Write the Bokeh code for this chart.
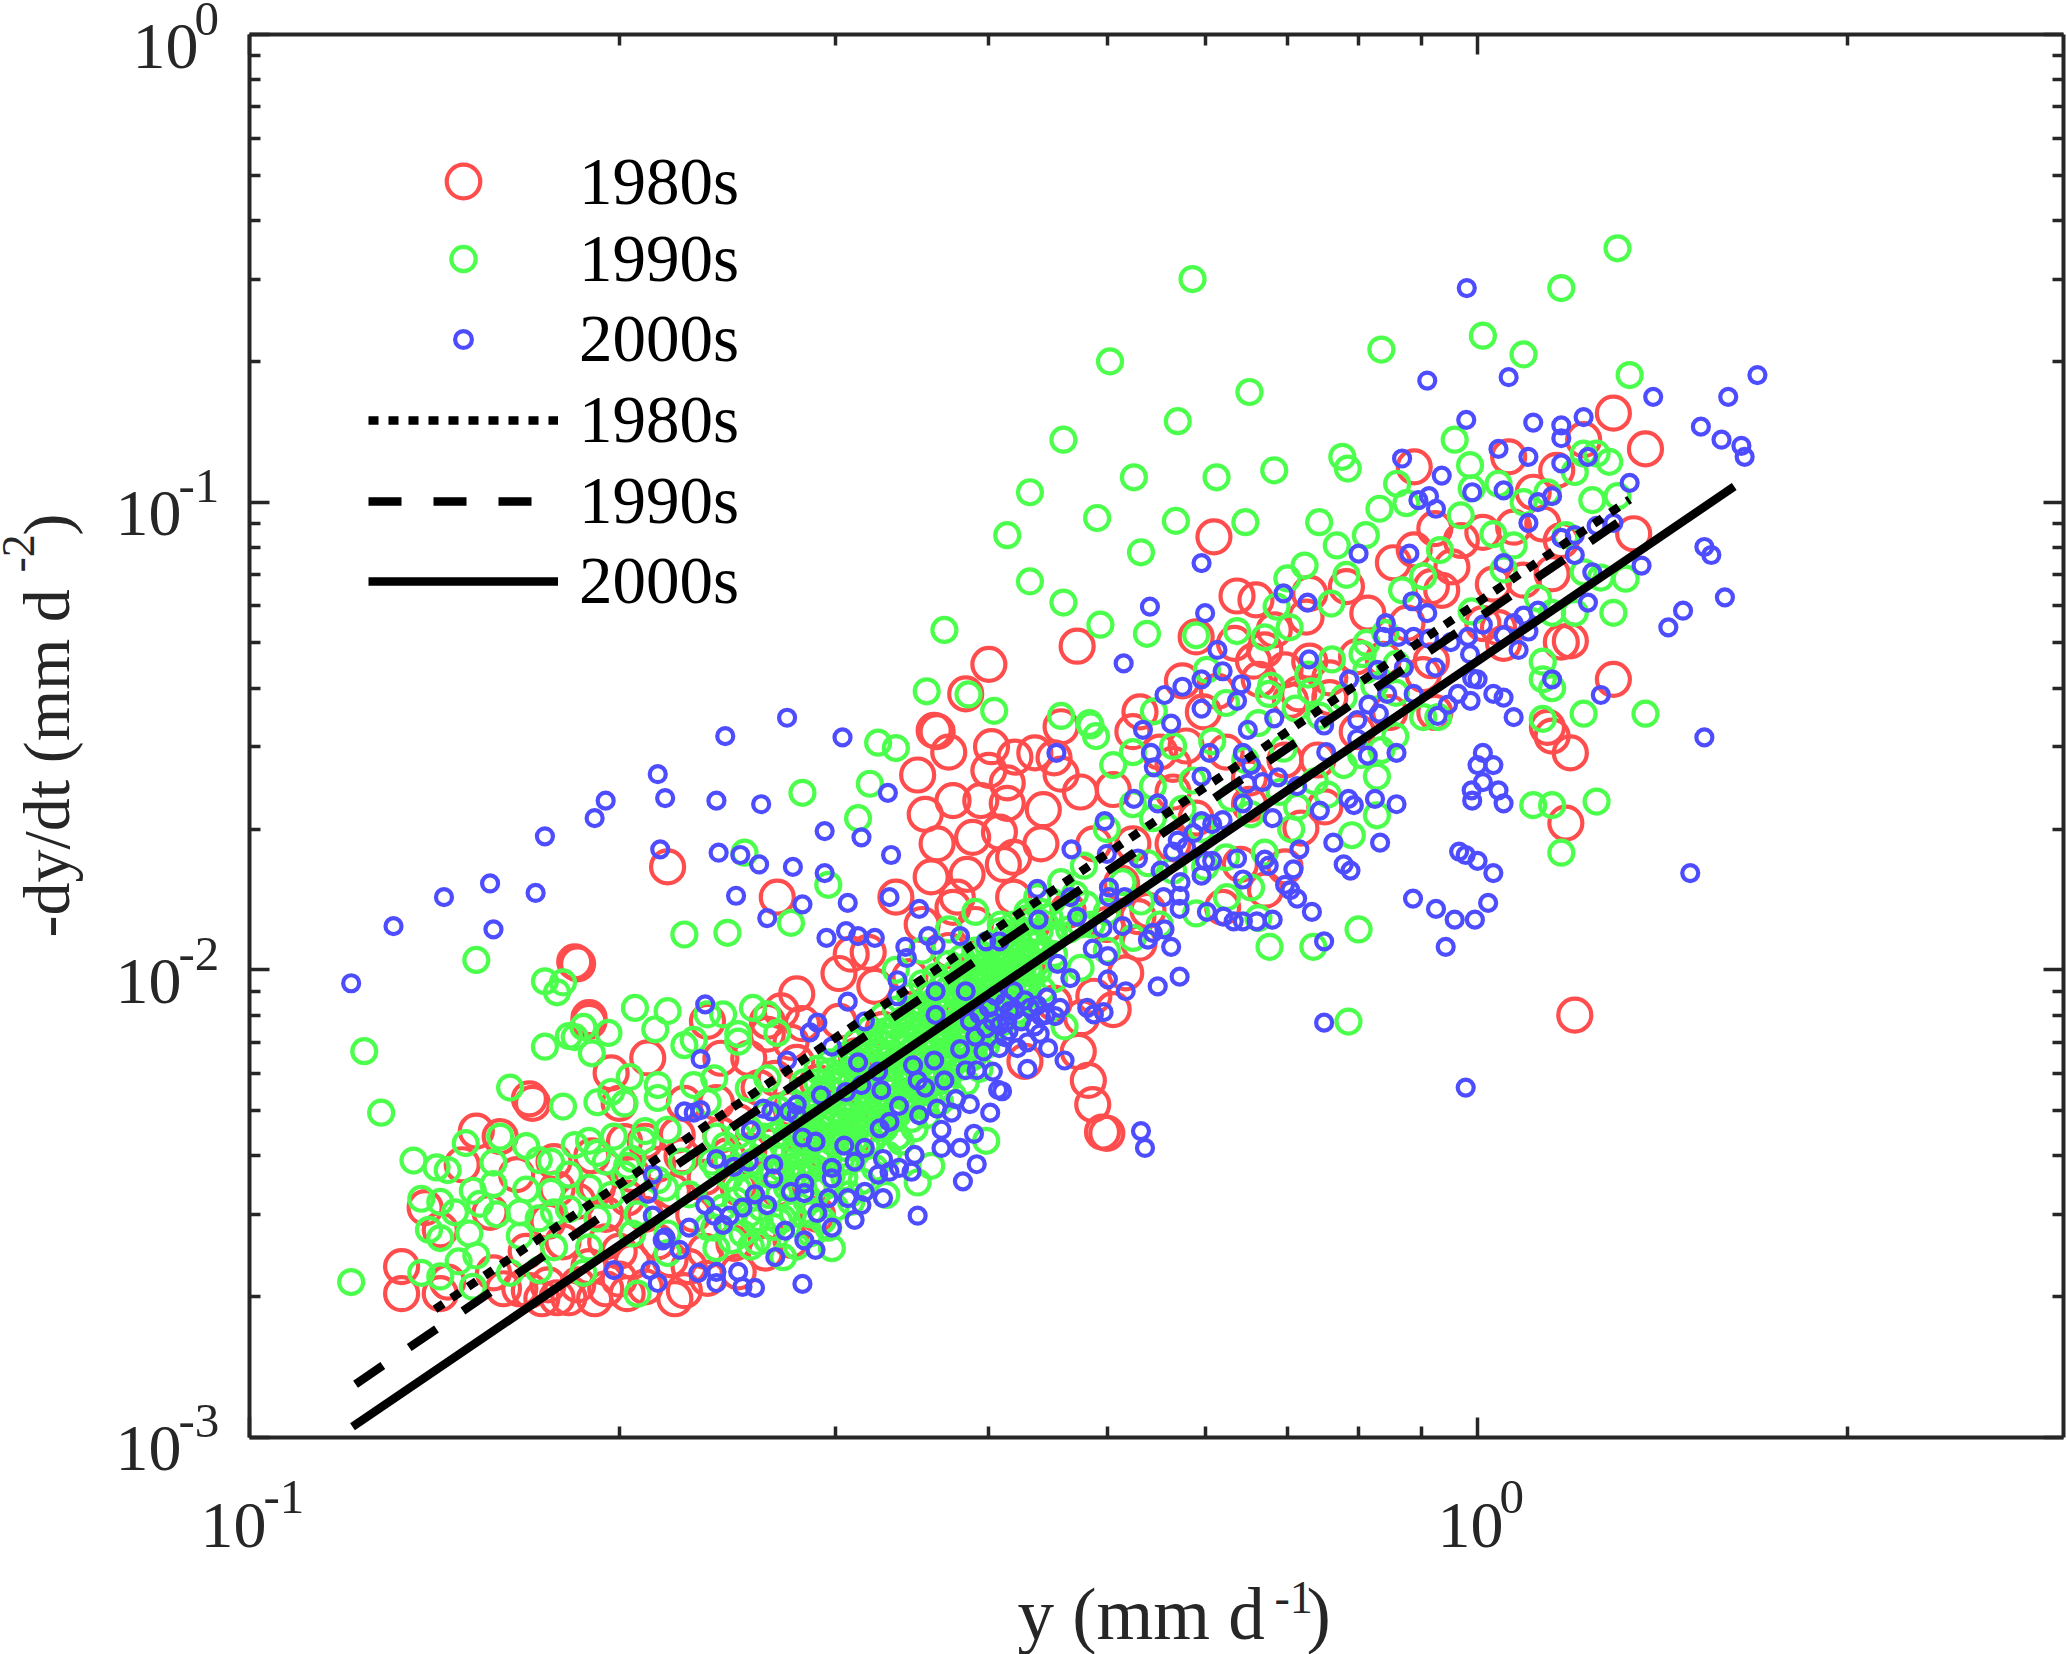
import math
from bokeh.plotting import figure
from bokeh.models import Range1d, FixedTicker, Label, Legend, LegendItem, LogAxis
from bokeh.embed import file_html
from bokeh.resources import INLINE

FONT = "Liberation Serif"
AXC = "#262626"
RED, GREEN, BLUE = "#FF4D4D", "#4DFF4D", "#4D4DFF"

x_major = [0.1, 1]
x_minor = [0.2, 0.3, 0.4, 0.5, 0.6, 0.7, 0.8, 0.9, 2]
y_major = [0.001, 0.01, 0.1, 1]
y_minor = [m * d for d in (0.001, 0.01, 0.1) for m in (2, 3, 4, 5, 6, 7, 8, 9)]

red_low = [(.133,.00232),(.133,.00203),(.143,.00203),(.153,.00452),(.160,.00440),(.149,.00383),(.139,.00310),(.143,.00278),
(.170,.00518),(.169,.00530),(.197,.00602),(.211,.00648),(.236,.00776),(.189,.00776),(.189,.00790),(.161,.00208),(.169,.00206),
(.178,.00199),(.182,.00199),(.195,.00208),(.203,.00203),(.226,.00206),(.236,.00219),(.248,.00260),(.165,.00365),(.177,.00389),
(.157,.00303),(.180,.00262),(.195,.00262),(.205,.00238),(.215,.00262),(.202,.00429),(.215,.00384),(.221,.00336),(.203,.00325),
(.192,.00342),(.223,.00443),(.242,.00443),(.242,.00647),(.255,.00647),(.268,.00586),(.279,.00634),(.282,.00767),(.264,.00776),
(.302,.00776),(.184,.0104),(.185,.0103),(.219,.0166),(.269,.0143),(.166,.00208),(.173,.00198),(.175,.00212),(.185,.00212),
(.191,.00198),(.189,.00232),(.200,.00218),(.210,.00210),(.222,.00198),(.228,.00232),(.250,.00226),(.263,.00248),(.276,.00264),
(.290,.00300),(.269,.00340),(.290,.00416),(.312,.00443),(.200,.00518),(.226,.00518),(.250,.00473),(.276,.00505),(.290,.00575),
(.312,.00655),(.328,.00746),(.250,.00342),(.230,.00300),(.205,.00365),(.145,.00215),(.158,.00225),(.168,.00250),(.175,.00290),
(.185,.00320),(.195,.00300),(.210,.00300),(.220,.00240),(.235,.00250),(.190,.00400),(.210,.00430),(.225,.00400),(.235,.00360),
(.245,.00400),(.200,.00250),(.178,.00340),(.240,.00520),(.260,.00560),(.255,.00410),(.265,.00420),(.280,.00390),(.300,.00460),
(.320,.00530),(.340,.00620),(.360,.00720),(.380,.00800)]
red_mid = [(.361,.0325),(.371,.0292),(.350,.0261),(.402,.0300),(.420,.0285),(.400,.0267),(.355,.0215),(.374,.0230),(.394,.0230),
(.414,.0227),(.363,.0186),(.388,.0192),(.408,.0197),(.359,.0158),(.384,.0160),(.377,.0143),(.374,.0136),(.411,.0168),(.309,.0108),
(.319,.0109),(.302,.00982),(.323,.00922),(.279,.00888),(.271,.00817),(.264,.00729),(.400,.0450),(.383,.0389),(.363,.0323),(.472,.0492),
(.458,.0331),(.436,.0291),(.414,.0251),(.443,.0220),(.458,.0262),(.565,.0275),(.505,.0243),(.513,.0153),(.529,.0130),(.517,.00985),
(.505,.00822),(.476,.00790),(.428,.00637),(.473,.00669),(.482,.00580),(.486,.00515),(.495,.00450),(.499,.00447),(.620,.0136),(.672,.0148),
(.718,.0201),(.641,.0168),(.697,.0166),(.751,.0223),(.452,.0284),(.475,.0240),(.441,.0186),(.487,.0186),(.524,.0186),(.419,.0174),
(.434,.0125),(.464,.0134),(.499,.0125),(.530,.0114),(.487,.00878),(.452,.00849),(.539,.0134),(.419,.0143),(.390,.0125),(.353,.0125),
(.336,.0143),(.371,.0110),(.345,.00967),(.399,.00967),(.430,.0103),(.276,.00700)]
red_band = [(.610,.0843),(.637,.0630),(.660,.0618),(.730,.0638),(.782,.0660),(.854,.0742),(.888,.0791),(.888,.119),(.923,.0878),(.970,.0828),
(1.01,.0862),(1.06,.125),(1.16,.117),(1.11,.105),(1.07,.0884),(1.13,.0898),(1.22,.136),(1.29,.155),(1.37,.130),(1.34,.0856),(1.17,.0828),
(.953,.0727),(.917,.0660),(1.03,.0668),(1.09,.0681),(1.15,.0703),(1.19,.0505),(1.17,.0502),(1.29,.0418),(.590,.0515),(.634,.0499),
(.657,.0457),(.697,.0438),(.730,.0457),(.575,.0415),(.614,.0394),(.664,.0418),(.715,.0389),(.531,.0356),(.598,.0356),(.814,.0579),
(.876,.0551),(.935,.0648),(1.04,.0539),(1.05,.0499),(1.14,.0330),(.725,.0568),(.683,.0533),(.671,.0483),(.797,.0467),(.758,.0421),
(.704,.0377),(.758,.0382),(.917,.0458),(1.01,.0550),(1.15,.0316),(1.19,.0291),(1.18,.0206),(1.20,.00800),(.551,.0292),(.524,.0323),
(.579,.0301),(.624,.0292),(.652,.0257),(.697,.0281),(.741,.0281),(.798,.0323),(.848,.0355),(.923,.0355),(.903,.0428),(.838,.0461),
(.565,.0186),(.590,.0211),(.652,.0226),(.565,.0240)]

green_outer = [(.586,.300),(1.30,.349),(1.17,.287),(.502,.200),(1.01,.227),(1.09,.207),(.835,.212),(1.33,.187),(.652,.172),(.570,.149),
(.460,.136),(.525,.113),(.613,.113),(.683,.117),(.776,.125),(.784,.118),(.432,.105),(.490,.0925),(.568,.0912),(.647,.0906),(.414,.085),
(.532,.0781),(.432,.0677),(.460,.0610),(.493,.0547),(.538,.0523),(.590,.0519),(.368,.0533),(.404,.0358),(.356,.0394),(.385,.0388),
(.458,.0349),(.484,.0333),(.489,.0316),(.325,.0306),(.336,.0298),(.282,.0239),(.320,.0250),(.313,.0211),(.253,.0178),(.296,.0152),
(.226,.0119),(.245,.0120),(.276,.0126),(.153,.0105),(.124,.0067),(.128,.00495),(.174,.00945),(.178,.00895),(.180,.0094),(.174,.00685),
(.184,.00718),(.187,.00755),(.163,.00560),(.180,.00510),(.121,.00215),(1.37,.0353),(1.29,.0580),(1.25,.0229),(1.11,.0225),(1.17,.0178),
(1.15,.0225),(.800,.0122),(.677,.0112),(.735,.0112),(.785,.00775),(1.13,.0344),(1.22,.0353),(.828,.0259),(.828,.0214),(.790,.0194),
(.663,.0129),(.461,.00757)]
green_band = [(.743,.0906),(.768,.0808),(.811,.085),(.832,.0968),(.860,.1095),(.875,.0995),(.958,.136),(.986,.120),(.989,.107),(1.04,.1095),
(.969,.0937),(1.09,.1000),(1.14,.105),(1.20,.116),(1.22,.127),(1.25,.127),(1.28,.122),(1.24,.101),(1.30,.103),(1.03,.0854),(.932,.0790),
(1.07,.0808),(1.05,.0718),(1.18,.085),(1.22,.0708),(1.26,.0690),(1.32,.0686),(1.20,.0580),(1.15,.0580),(1.13,.0456),(1.13,.0418),(1.15,.0400),
(.723,.0732),(.700,.0687),(.782,.0699),(.903,.0694),(.868,.0648),(.760,.0607),(.686,.0598),(.637,.0530),(.671,.0514),(.703,.0540),(.812,.0500),
(1.12,.0623),(.989,.0584),(.483,.0337),(.545,.0357),(.602,.0438),(.676,.0389),(.732,.0394),(.812,.0438),(.858,.0391),(.903,.0347),(.929,.0347),
(.505,.0274),(.524,.0292),(.544,.0247),(.565,.0301),(.586,.0254),(.608,.0308),(.624,.0372),(.647,.0281),(.663,.0337),(.679,.0405),(.695,.0297),
(.711,.0362),(.728,.0428),(.744,.0349),(.761,.0461),(.778,.0382),(.806,.0473),(.824,.0405),(.841,.0525),(.859,.0451),(.544,.0211),(.575,.0221),
(.596,.0200),(.630,.0233),(.654,.0215),(.690,.0240),(.713,.0223),(.737,.0253),(.755,.0237),(.778,.0274),(.804,.0288),(.835,.0295),(.857,.0316),
(.524,.0226),(.499,.0200),(.478,.0167),(.458,.0154),(.438,.0143),(.514,.0154),(.539,.0169),(.565,.0163),(.600,.0166),(.624,.0174),(.671,.0178),
(.705,.0200),(.654,.0150),(.625,.0143),(.590,.0132),(.551,.0125),(.524,.0117),(.499,.0110),(.475,.0101),(.452,.00954),(.430,.00880),(.423,.0110),
(.399,.0103),(.380,.00967),(.409,.0125),(.430,.0133),(.390,.0133),(.371,.0122),(.353,.0110),(.336,.0100),(.475,.0125),(.452,.0119),(.499,.0133),(.532,.0140)]
green_core = [(.238,.00389),(.240,.00331),(.236,.00282),(.244,.00421),(.246,.00360),(.243,.00310),(.247,.00264),(.250,.00443),(.251,.00377),(.249,.00321),(.252,.00273),
(.255,.00458),(.257,.00389),(.254,.00342),(.258,.00291),(.256,.00256),(.263,.00489),(.262,.00416),(.265,.00365),(.261,.00310),(.264,.00264),
(.269,.00505),(.268,.00443),(.271,.00377),(.270,.00331),(.267,.00282),(.276,.00522),(.275,.00458),(.278,.00402),(.274,.00342),(.277,.00300),(.279,.00256),
(.283,.00575),(.282,.00489),(.285,.00429),(.281,.00365),(.284,.00321),(.286,.00273),(.290,.00614),(.289,.00522),(.292,.00458),(.291,.00389),(.288,.00342),(.293,.00291),
(.297,.00634),(.296,.00557),(.299,.00473),(.295,.00416),(.298,.00365),(.300,.00310),(.305,.00655),(.304,.00575),(.307,.00505),(.303,.00443),(.306,.00389),(.308,.00331),
(.312,.00700),(.311,.00614),(.314,.00539),(.310,.00473),(.313,.00416),(.315,.00353),(.320,.00746),(.319,.00655),(.322,.00575),(.318,.00505),(.321,.00429),(.323,.00377),
(.328,.00796),(.327,.00700),(.330,.00594),(.326,.00522),(.329,.00458),(.331,.00402),(.336,.00822),(.335,.00722),(.338,.00634),(.334,.00557),(.337,.00489),(.339,.00429),
(.345,.00878),(.344,.00771),(.347,.00677),(.343,.00594),(.346,.00522),(.348,.00458),(.353,.00936),(.352,.00822),(.355,.00722),(.351,.00634),(.354,.00557),(.356,.00489),
(.362,.00967),(.361,.00849),(.364,.00746),(.360,.00677),(.363,.00594),(.365,.00522),(.371,.0103),(.370,.00907),(.373,.00796),(.369,.00700),(.372,.00614),(.374,.00539),
(.380,.0106),(.379,.00936),(.382,.00849),(.378,.00746),(.381,.00655),(.383,.00575),(.390,.0110),(.389,.00998),(.392,.00878),(.388,.00796),(.391,.00700),(.393,.00614),
(.399,.0113),(.398,.0103),(.401,.00907),(.397,.00822),(.400,.00722),(.409,.0121),(.408,.0106),(.411,.00967),(.407,.00849),(.410,.00771),
(.419,.0125),(.418,.0113),(.421,.00998),(.417,.00907),(.420,.00796),(.430,.0129),(.429,.0117),(.432,.0106),(.428,.00936),(.431,.00849),
(.441,.0133),(.440,.0121),(.443,.0110),(.439,.00998),(.442,.00907)]
green_core_extra = [(.262,.00440),(.267,.00370),(.272,.00420),(.276,.00480),(.280,.00380),(.284,.00500),(.287,.00440),(.290,.00400),(.293,.00550),(.296,.00480),
(.300,.00440),(.300,.00590),(.303,.00390),(.306,.00520),(.309,.00450),(.312,.00640),(.315,.00580),(.316,.00490),(.318,.00420),(.320,.00690),(.323,.00610),(.325,.00530),
(.327,.00470),(.330,.00740),(.332,.00660),(.333,.00570),(.335,.00500),(.337,.00440),(.340,.00780),(.341,.00690),(.342,.00610),(.344,.00540),(.346,.00480),(.349,.00830),
(.350,.00740),(.352,.00650),(.354,.00590),(.355,.00520),(.358,.00880),(.359,.00790),(.360,.00710),(.361,.00620),(.362,.00550),(.366,.00920),(.367,.00820),(.368,.00740),
(.369,.00660),(.370,.00580),(.375,.00980),(.376,.00880),(.377,.00780),(.378,.00700),(.379,.00620),(.384,.01020),(.385,.00920),(.386,.00830),(.387,.00740),(.388,.00650),
(.394,.0108),(.395,.00960),(.396,.00870),(.397,.00780),(.398,.00690),(.403,.0113),(.404,.0100),(.405,.00910),(.406,.00810),(.413,.0118),(.414,.0104),(.415,.00950),
(.416,.00860),(.424,.0122),(.425,.0110),(.426,.00980),(.427,.00890),(.435,.0127),(.436,.0115),(.437,.0103),(.448,.0130),(.450,.0118),(.452,.0108),(.462,.0133),(.465,.0122),
(.450,.0140),(.470,.0145),(.480,.0138),(.485,.0125),(.240,.00440),(.245,.00390),(.250,.00340),(.255,.00300),(.260,.00380),(.265,.00330),(.270,.00290),(.275,.00380),
(.285,.00320),(.295,.00350),(.305,.00360)]
green_core_solid = [(.276,.00522),(.277,.00479),(.275,.00437),(.278,.00410),(.276,.00375),(.277,.00344),(.283,.00553),(.284,.00502),(.282,.00467),(.283,.00426),(.285,.00389),(.282,.00360),
(.290,.00575),(.289,.00528),(.291,.00486),(.290,.00449),(.292,.00408),(.289,.00377),(.297,.00606),(.298,.00553),(.296,.00512),(.297,.00467),(.299,.00426),(.296,.00394),
(.305,.00630),(.304,.00582),(.306,.00532),(.305,.00489),(.303,.00449),(.306,.00416),(.312,.00663),(.313,.00606),(.311,.00560),(.312,.00512),(.314,.00473),(.311,.00432),
(.320,.00695),(.319,.00638),(.321,.00582),(.320,.00539),(.322,.00492),(.319,.00455),(.328,.00722),(.327,.00663),(.329,.00614),(.328,.00560),(.326,.00518),(.329,.00473),
(.336,.00757),(.337,.00700),(.335,.00638),(.336,.00590),(.338,.00539),(.335,.00499),(.345,.00796),(.344,.00725),(.346,.00673),(.345,.00614),(.343,.00567),(.346,.00518),
(.353,.00826),(.354,.00766),(.352,.00700),(.353,.00647),(.355,.00590),(.352,.00546),(.362,.00866),(.361,.00796),(.363,.00735),(.362,.00673),(.360,.00622),(.363,.00575),
(.371,.00907),(.372,.00838),(.370,.00766),(.371,.00708),(.373,.00647),(.370,.00598),(.380,.00948),(.379,.00873),(.381,.00808),(.380,.00735),(.378,.00680),(.381,.00622),
(.390,.00992),(.389,.00907),(.391,.00838),(.390,.00776),(.392,.00708),(.389,.00655),(.399,.0103),(.400,.00954),(.398,.00873),(.399,.00808),(.401,.00746),
(.409,.0107),(.408,.00992),(.410,.00922),(.409,.00838),(.411,.00776),(.419,.0112),(.420,.0104),(.418,.00954),(.419,.00884),(.421,.00816),
(.430,.0117),(.429,.0107),(.431,.0100),(.430,.00922),(.432,.00849)]
green_low = [(.182,.00722),(.196,.00733),(.190,.00663),(.192,.00521),(.197,.00548),(.202,.00518),(.204,.00590),(.215,.00567),(.215,.00532),(.214,.00746),
(.219,.00816),(.206,.00829),(.243,.00803),(.236,.00803),(.250,.00729),(.250,.00702),(.230,.00708),(.226,.00690),(.269,.00733),(.257,.00829),(.264,.00803),
(.230,.00567),(.239,.00586),(.255,.00558),(.264,.00586),(.236,.00521),(.136,.00391),(.142,.00378),(.145,.00373),(.150,.00426),(.160,.00440),(.168,.00420),
(.158,.00387),(.172,.00392),(.176,.00389),(.184,.00422),(.189,.00431),(.192,.00406),(.198,.00440),(.203,.00381),(.210,.00452),(.209,.00431),(.219,.00455),
(.138,.00324),(.143,.00319),(.147,.00303),(.152,.00337),(.158,.00348),(.154,.00316),(.159,.00300),(.140,.00278),(.143,.00267),(.151,.00273),(.166,.00303),
(.168,.00339),(.176,.00335),(.172,.00294),(.166,.00270),(.177,.00303),(.189,.00342),(.182,.00308),(.192,.00294),(.197,.00330),(.202,.00365),(.205,.00394),
(.215,.00355),(.138,.00225),(.143,.00221),(.148,.00238),(.153,.00245),(.152,.00210),(.163,.00225),(.172,.00228),(.177,.00255),(.187,.00225),(.189,.00255),
(.207,.00203),(.219,.00248),(.240,.00254),(.259,.00262),(.272,.00294),(.298,.00254),(.272,.00243),(.296,.00281),(.350,.00351),(.359,.00381),(.398,.00431),
(.330,.00330),(.309,.00319),(.286,.00300),(.259,.00290),(.239,.00281),(.219,.00273),(.205,.00273),(.182,.00365),(.195,.00389),(.207,.00300),(.218,.00342),
(.225,.00389),(.228,.00331),(.240,.00377)]

blue_outer = [(.980,.287),(.910,.182),(1.06,.185),(1.39,.168),(1.60,.168),(1.69,.187),(1.52,.145),(1.58,.136),(1.64,.132),(1.65,.125),(.979,.150),(1.11,.148),
(1.17,.146),(1.17,.137),(1.22,.152),(1.23,.125),(1.04,.130),(1.10,.125),(1.17,.121),(.868,.124),(.935,.114),(.913,.103),(.895,.101),(.925,.0968),(.990,.105),
(1.05,.106),(1.15,.103),(1.12,.1000),(1.33,.110),(1.10,.0903),(1.29,.0903),(1.25,.0890),(1.17,.0839),(1.20,.0850),(1.20,.0771),(1.05,.0741),(1.24,.0708),
(1.36,.0732),(1.53,.0802),(1.55,.0771),(1.59,.0626),(1.47,.0586),(1.43,.0540),(.596,.0741),(.800,.0776),(.880,.0776),(.541,.0598),(.600,.0579),(.695,.0638),
(.727,.0610),(.885,.0614),(.910,.0579),(.515,.0452),(.614,.0483),(.729,.0461),(.842,.0551),(.838,.0515),(.862,.0515),(.887,.0515),(.913,.0511),(.951,.0502),
(.982,.0515),(1.01,.0547),(1.05,.0519),(1.07,.0551),(1.09,.0572),(1.12,.0586),(1.10,.0529),(1.23,.0610),(1.08,.0483),(.986,.0473),(.924,.0443),(.990,.0420),
(1.00,.0418),(.871,.0443),(.829,.0438),(.786,.0418),(1.15,.0418),(1.26,.0387),(1.07,.0347),(.928,.0349),(.964,.0389),(1.03,.0389),(1.05,.0382),(.887,.0389),
(.946,.0369),(.987,.0376),(.844,.0389),(.815,.0369),(.831,.0353),(.798,.0342),(.683,.0345),(.637,.0376),(.642,.0408),(.596,.0418),(.575,.0403),(.556,.0387),
(.620,.0435),(.596,.0362),(.534,.0326),(.563,.0336),(.650,.0326),(1.53,.0314),(1.01,.0291),(1.00,.0274),(1.03,.0274),(1.01,.0252),(.989,.0242),(.990,.0230),
(1.04,.0242),(1.05,.0227),(.825,.0232),(.785,.0232),(.793,.0225),(.859,.0226),(.763,.0187),(.833,.0187),(.966,.0179),(.978,.0176),(1.00,.0171),(1.03,.0161),
(.778,.0168),(.788,.0163),(1.49,.0161),(.886,.0142),(.925,.0135),(.958,.0128),(.995,.0128),(1.02,.0139),(.942,.0112),(.750,.0115),(.750,.00771),(.978,.00560),
(.532,.00452),(.536,.00416)]
blue_mid = [(.716,.0181),(.708,.0164),(.713,.0142),(.733,.0133),(.681,.0128),(.661,.0127),(.644,.0127),(.633,.0127),(.621,.0130),(.602,.0133),(.572,.0135),(.563,.0112),
(.556,.0122),(.544,.0120),(.539,.0116),(.572,.00967),(.549,.00922),(.517,.00900),(.500,.00954),(.466,.00960),(.455,.0103),(.500,.0107),(.486,.0111),(.514,.0124),
(.495,.0123),(.644,.0156),(.671,.0172),(.676,.0167),(.637,.0173),(.608,.0171),(.596,.0159),(.697,.0152),(.704,.0148),(.573,.0154),(.572,.0144),(.555,.0143),(.552,.0163),
(.529,.0173),(.499,.0177),(.467,.0181),(.497,.0208),(.525,.0232),(.549,.0227),(.596,.0259),(.545,.0271),(.542,.0291),(.605,.0291),(.644,.0291),(.654,.0274),(.688,.0258),
(.668,.0252),(.649,.0250),(.713,.0247),(.644,.0227),(.681,.0211),(.744,.0219),(.753,.0292),(.814,.0287),(.859,.0291),(.798,.0312),(.454,.0291),(.750,.0333),(.608,.0205),
(.587,.0196),(.570,.0189),(.620,.0209),(.596,.0208),(.579,.0183),(.600,.0171),(.565,.0179),(.516,.0143),(.501,.0150),(.501,.0143),(.472,.0130),(.439,.0128),(.438,.0149),
(.466,.0143),(.419,.00900),(.446,.00873),(.432,.00829),(.457,.00829),(.416,.00816),(.425,.00776),(.441,.00796),(.453,.00796),(.436,.00757),(.412,.00718),(.422,.00680),
(.447,.00680),(.461,.00640),(.430,.00614),(.410,.00550),(.481,.00829),(.496,.00812),(.487,.00803),(.400,.00830),(.405,.00880),(.412,.00850),(.420,.00820),(.428,.00860),
(.438,.00840),(.445,.00800),(.415,.00740),(.408,.00760),(.430,.00700),(.440,.00730),(.390,.00720),(.398,.00750)]
blue_left = [(.274,.0346),(.244,.0316),(.304,.0314),(.215,.0262),(.218,.0233),(.240,.0230),(.261,.0226),(.195,.0230),(.191,.0211),(.174,.0193),(.331,.0239),(.294,.0198),
(.315,.0192),(.216,.0181),(.241,.0178),(.251,.0176),(.260,.0168),(.277,.0166),(.294,.0161),(.333,.0176),(.157,.0153),(.144,.0143),(.171,.0146),(.158,.0122),(.131,.0124),
(.121,.00936),(.249,.0144),(.282,.0138),(.264,.0129),(.307,.0139),(.332,.0143),(.351,.0135),(.295,.0117),(.306,.0121),(.313,.0118),(.323,.0117),(.342,.0112),(.343,.0106),
(.357,.0118),(.362,.0113),(.379,.0118),(.398,.0115),(.408,.0115),(.337,.00950),(.362,.00900),(.383,.00900),(.337,.00878),(.307,.00855),(.317,.00776),(.362,.00801),
(.290,.00771),(.286,.00735),(.235,.00844),(.233,.00644),(.274,.00640),(.298,.00685),(.313,.00634),(.226,.00498),(.230,.00495),(.233,.00501)]
blue_low = [(.198,.00228),(.212,.00228),(.215,.00214),(.232,.00225),(.240,.00226),(.240,.00214),(.250,.00226),(.252,.00210),(.258,.00209),(.282,.00213),(.268,.00243),
(.289,.00252),(.283,.00264),(.273,.00277),(.298,.00281),(.290,.00302),(.311,.00292),(.350,.00298),(.381,.00353),(.391,.00384),(.218,.00268),(.224,.00252),(.217,.00264),
(.228,.00281),(.213,.00298),(.211,.00332),(.213,.00365),(.240,.00394),(.256,.00454),(.248,.00379),(.255,.00389),(.235,.00314),(.239,.00298),(.243,.00285),(.246,.00298),
(.252,.00310),(.258,.00331),(.264,.00314),(.267,.00384),(.267,.00358),(.276,.00335),(.283,.00349),(.283,.00333),(.296,.00325),(.298,.00377),(.298,.00358),(.307,.00325),
(.315,.00314),(.317,.00335),(.328,.00325),(.311,.00389),(.305,.00421),(.317,.00416),(.328,.00394),(.332,.00370),(.325,.00365),(.338,.00377),(.346,.00370),(.348,.00402),
(.282,.00438),(.289,.00429),(.326,.00458),(.332,.00473),(.338,.00512),(.351,.00489),(.363,.00505),(.373,.00495),(.366,.00455),(.366,.00416),(.379,.00416),(.389,.00446),
(.401,.00495),(.386,.00516),(.376,.00529),(.407,.00554),(.403,.00606),(.391,.00610),(.383,.00610),(.361,.00640),(.347,.00625),(.350,.00580),(.355,.00560),(.368,.00580),
(.379,.00677),(.396,.00669),(.408,.00680),(.266,.00498),(.279,.00515),(.292,.00539),(.315,.00567),(.327,.00553),(.306,.00548),(.325,.00606),(.275,.00498),(.262,.00505),
(.279,.00489),(.386,.00776),(.403,.00776),(.414,.00776),(.393,.00803)]

fit_1980s_x, fit_1980s_y = [0.1416, 1.33], [0.00188, 0.1013]
fit_1990s_x, fit_1990s_y = [0.1220, 1.312], [0.0013, 0.0918]
fit_2000s_x, fit_2000s_y = [0.1213, 1.618], [0.001054, 0.108]

XLIM = (0.1, 3.0)
YLIM = (0.001, 1.0)

# The plot box lies at pixels 249..2063 x 34..1437 of a 2067x1654 canvas. The frame fills the canvas,
# so that texts beside the box stay visible; the axes are pinned to the box with fixed_location.
W, H = 2067, 1654
L, R, T, B = 249, 2063, 34, 1437
xdec = (R - L) / math.log10(XLIM[1] / XLIM[0])
ydec = (B - T) / math.log10(YLIM[1] / YLIM[0])
x_range = Range1d(XLIM[0] * 10 ** (-L / xdec), XLIM[1] * 10 ** ((W - R) / xdec))
y_range = Range1d(YLIM[0] * 10 ** (-(H - B) / ydec), YLIM[1] * 10 ** (T / ydec))

p = figure(width=W, height=H, output_backend="svg", toolbar_location=None,
           x_axis_type="log", y_axis_type="log", x_axis_location=None, y_axis_location=None,
           x_range=x_range, y_range=y_range,
           min_border=0, background_fill_color="white", border_fill_color="white",
           outline_line_color=None)
p.grid.visible = False


def add_axis(side, major, minor, where, bounds):
    ax = LogAxis(fixed_location=where, bounds=bounds)
    ax.ticker = FixedTicker(ticks=major, minor_ticks=minor)
    ax.axis_line_color = AXC
    ax.axis_line_width = 4
    ax.major_tick_line_color = AXC
    ax.minor_tick_line_color = AXC
    ax.major_tick_line_width = 3.5
    ax.minor_tick_line_width = 3.5
    ax.major_tick_in = 20
    ax.major_tick_out = 0
    ax.minor_tick_in = 11
    ax.minor_tick_out = 0
    ax.major_label_text_font_size = "0px"
    ax.major_label_text_color = None
    ax.major_label_standoff = 0
    p.add_layout(ax, side)


add_axis("below", x_major, x_minor, YLIM[0], XLIM)
add_axis("above", x_major, x_minor, YLIM[1], XLIM)
add_axis("left", y_major, y_minor, XLIM[0], YLIM)
add_axis("right", y_major, y_minor, XLIM[1], YLIM)


def draw(groups, color, size):
    xs, ys = [], []
    for g in groups:
        for a, b in g:
            xs.append(a)
            ys.append(b)
    return p.scatter(xs, ys, marker="circle", size=size, fill_color=None, line_color=color, line_width=4.2)


r_red = draw([red_low, red_mid, red_band], RED, 33)
r_green = draw([green_outer, green_band, green_core, green_core_extra, green_core_solid, green_low], GREEN, 24)
r_blue = draw([blue_outer, blue_mid, blue_left, blue_low], BLUE, 16)

l_80 = p.line(fit_1980s_x, fit_1980s_y, line_color="black", line_width=8.5, line_dash="10 10")
l_90 = p.line(fit_1990s_x, fit_1990s_y, line_color="black", line_width=8.5, line_dash="33 32")
l_00 = p.line(fit_2000s_x, fit_2000s_y, line_color="black", line_width=8.5)


def legend_row(renderer, label, cy, gh):
    rowh = max(gh, 70)
    leg = Legend(items=[LegendItem(label=label, renderers=[renderer])], orientation="vertical",
                 location=(368, H - cy - rowh / 2), glyph_width=190, glyph_height=gh,
                 label_height=rowh, label_standoff=21, spacing=0, padding=0, margin=0,
                 background_fill_alpha=0, border_line_color=None,
                 label_text_font=FONT, label_text_font_size="67px", label_text_color="black",
                 label_text_baseline="middle")
    p.add_layout(leg, "center")


legend_row(r_red, "1980s", 181, 84)
legend_row(r_green, "1990s", 262, 61)
legend_row(r_blue, "2000s", 342, 42)
legend_row(l_80, "1980s", 423, 60)
legend_row(l_90, "1990s", 504, 60)
legend_row(l_00, "2000s", 584, 60)

BASE = 0.33  # share of the font size by which Bokeh draws a Label below the wanted baseline


def label(x, y, text, dx, dy, size, angle=0):
    if angle:
        dx -= BASE * size
    else:
        dy += BASE * size
    p.add_layout(Label(x=x, y=y, text=text, x_offset=dx, y_offset=dy, angle=angle,
                       text_font=FONT, text_font_size=f"{size}px", text_color=AXC,
                       text_align="left", text_baseline="alphabetic"))


# x tick labels
label(0.1, 0.001, "10", -49, -110, 66)
label(0.1, 0.001, "-1", 14, -76, 49)
label(1, 0.001, "10", -40, -110, 66)
label(1, 0.001, "0", 22, -76, 49)
# y tick labels
label(0.1, 1, "10", -117, -34, 66)
label(0.1, 1, "0", -55, -1, 49)
for v, s in ((0.1, "-1"), (0.01, "-2"), (0.001, "-3")):
    label(0.1, v, "10", -134, -33, 66)
    label(0.1, v, s, -71, 0, 49)

# axis titles
label(0.1, 0.001, "y (mm d", 1017 - L, B - 1638, 73)
label(0.1, 0.001, "-1", 1274 - L, B - 1612, 46)
label(0.1, 0.001, ")", 1306 - L, B - 1638, 73)
ang = math.pi / 2
label(0.1, 0.001, "-dy/dt (mm d", 68 - L, B - 937, 66, ang)
label(0.1, 0.001, "-2", 33 - L, B - 572, 46, ang)
label(0.1, 0.001, ")", 68 - L, B - 535, 66, ang)

open("out.html", "w").write(file_html(p, INLINE))
